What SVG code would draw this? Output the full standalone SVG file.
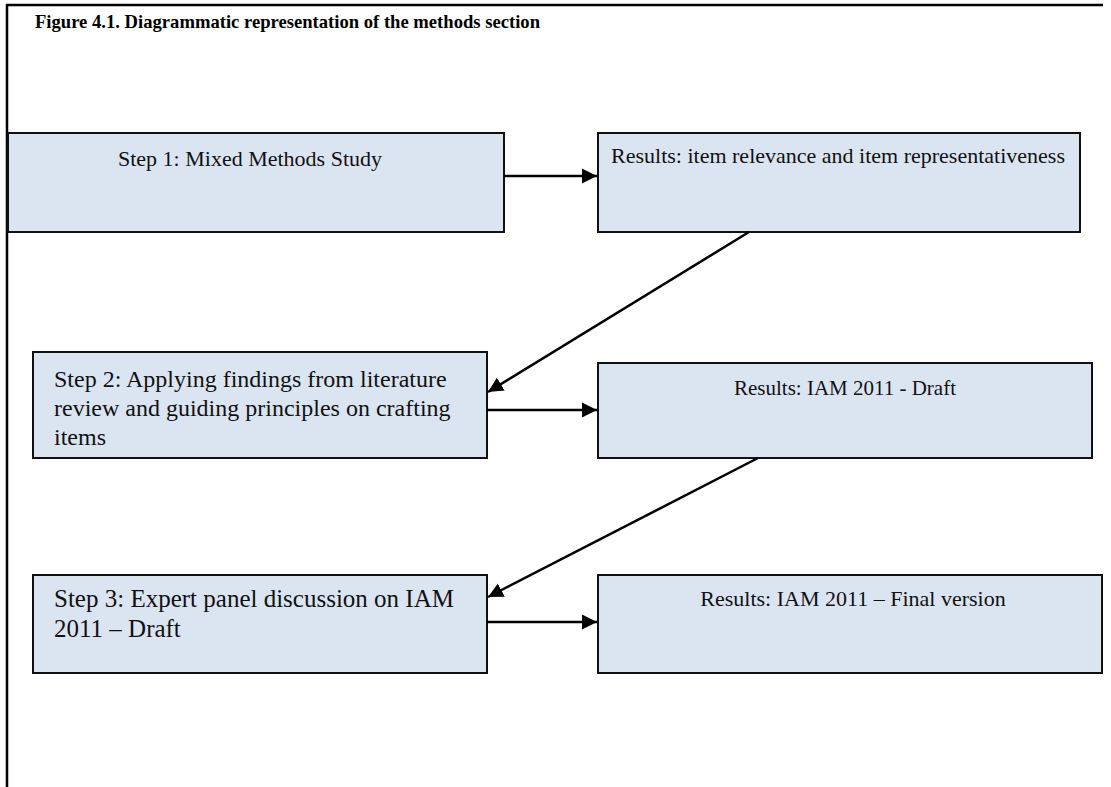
<svg xmlns="http://www.w3.org/2000/svg" width="1111" height="787" viewBox="0 0 1111 787">
  <style>
    .frame { stroke: #000; stroke-width: 2.5; fill: none; }
    .box { fill: #dbe5f1; stroke: #111; stroke-width: 2; }
    .label { font-family: "Liberation Serif", "Times New Roman", serif; fill: #111; }
    .title { font-family: "Liberation Serif", "Times New Roman", serif; font-weight: bold; font-size: 19.5px; fill: #000; }
    .link { stroke: #000; stroke-width: 2.5; fill: none; marker-end: url(#head); }
  </style>
  <defs>
    <marker id="head" viewBox="0 0 10 10" refX="10" refY="5" markerUnits="userSpaceOnUse" markerWidth="15" markerHeight="16" orient="auto">
      <path d="M0,0 L10,5 L0,10 z" fill="#000"/>
    </marker>
  </defs>

  <rect width="1111" height="787" fill="#fff"/>

  <!-- page frame: top rule and left rule -->
  <path class="frame" d="M7,787 L7,5 L1103,5"/>

  <text class="title" x="35" y="28" textLength="505" lengthAdjust="spacingAndGlyphs">Figure 4.1. Diagrammatic representation of the methods section</text>

  <g id="step1">
    <rect class="box" x="8" y="133" width="496" height="99"/>
    <text class="label" x="250" y="166" font-size="22" text-anchor="middle">Step 1: Mixed Methods Study</text>
  </g>

  <g id="results1">
    <rect class="box" x="598" y="133" width="482" height="99"/>
    <text class="label" x="838" y="163" font-size="22" text-anchor="middle">Results: item relevance and item representativeness</text>
  </g>

  <g id="step2">
    <rect class="box" x="33" y="352" width="454" height="106"/>
    <text class="label" x="54" y="387" font-size="24">Step 2: Applying findings from literature</text>
    <text class="label" x="54" y="416" font-size="24">review and guiding principles on crafting</text>
    <text class="label" x="54" y="445" font-size="24">items</text>
  </g>

  <g id="results2">
    <rect class="box" x="598" y="363" width="494" height="95"/>
    <text class="label" x="845" y="395" font-size="21" text-anchor="middle">Results: IAM 2011 - Draft</text>
  </g>

  <g id="step3">
    <rect class="box" x="33" y="575" width="454" height="98"/>
    <text class="label" x="54" y="607" font-size="25">Step 3: Expert panel discussion on IAM</text>
    <text class="label" x="54" y="637" font-size="25">2011 – Draft</text>
  </g>

  <g id="results3">
    <rect class="box" x="598" y="575" width="504" height="98"/>
    <text class="label" x="853" y="606" font-size="22" text-anchor="middle">Results: IAM 2011 – Final version</text>
  </g>

  <g id="connectors">
    <line class="link" x1="504" y1="176" x2="597" y2="176"/>
    <line class="link" x1="749" y1="232" x2="488" y2="392"/>
    <line class="link" x1="487" y1="410" x2="597" y2="410"/>
    <line class="link" x1="758" y1="458" x2="488" y2="597"/>
    <line class="link" x1="487" y1="622" x2="597" y2="622"/>
  </g>
</svg>
